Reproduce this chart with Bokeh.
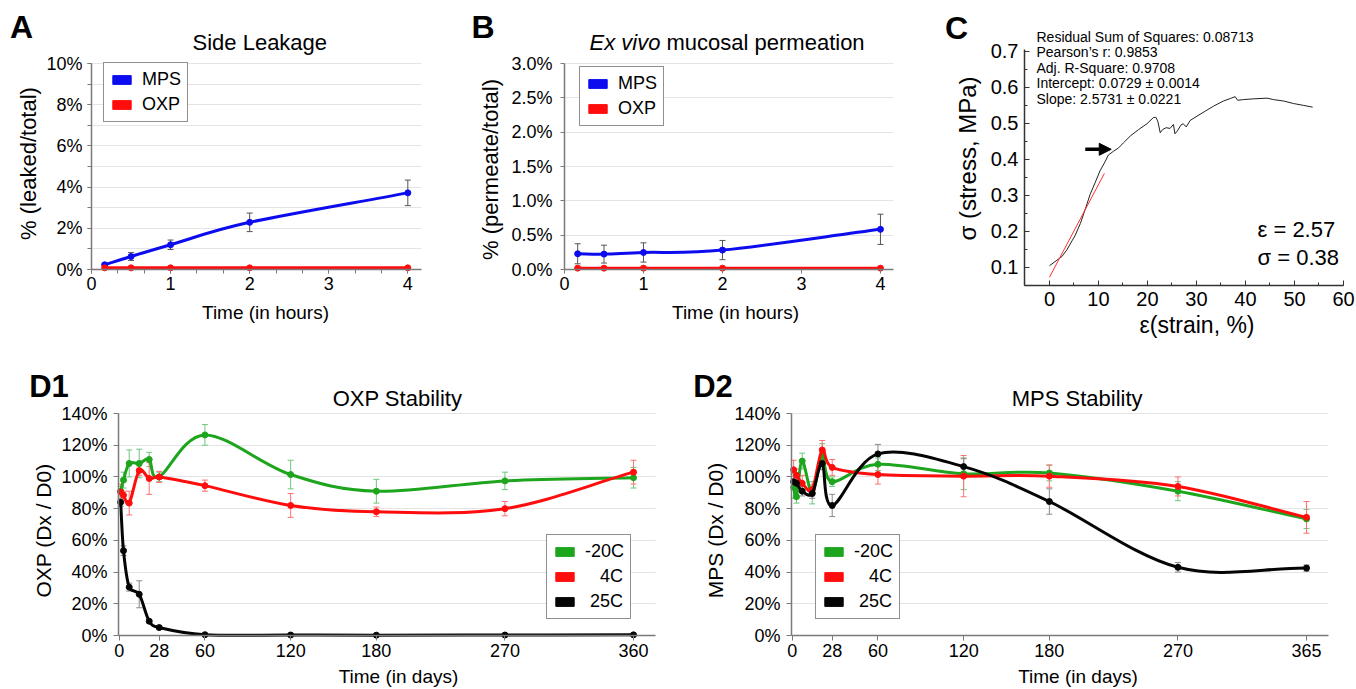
import math
from bokeh.plotting import figure
from bokeh.models import (Range1d, Label, Legend, LegendItem, Whisker, ColumnDataSource,
                          SingleIntervalTicker, FixedTicker, PrintfTickFormatter, Arrow,
                          NormalHead, TeeHead, Grid)
from bokeh.layouts import row, column
from bokeh.embed import file_html
from bokeh.resources import INLINE

FONT = "Liberation Sans"
NAN = float("nan")

# ---------------- data ----------------
a_hours = [1 / 6, 0.5, 1, 2, 4]
a_mps = [0.23, 0.63, 1.20, 2.29, 3.72]
a_mps_err = [0.05, 0.19, 0.23, 0.45, 0.62]
a_oxp = [0.08, 0.08, 0.08, 0.08, 0.08]

b_hours = [1 / 6, 0.5, 1, 2, 4]
b_mps = [0.229, 0.224, 0.248, 0.283, 0.585]
b_mps_err = [0.146, 0.13, 0.14, 0.14, 0.22]
b_oxp = [0.02, 0.02, 0.02, 0.02, 0.02]

c_strain = [0.0, 1.5, 2.5, 3.5, 4.6, 5.2, 6.3, 7.3, 8.3, 9.3, 10.3, 11.4, 12.0, 13.1, 14.1,
            15.1, 16.5, 18.2, 19.9, 21.2, 21.7, 22.1, 22.6, 23.1, 23.8, 24.6, 25.3, 25.6,
            26.1, 26.8, 27.3, 27.9, 28.7, 30.1, 31.8, 33.5, 35.5, 36.9, 37.9, 38.4, 39.6,
            41.6, 44.4, 45.7, 47.8, 49.8, 51.8, 53.7]
c_stress = [0.105, 0.120, 0.130, 0.148, 0.174, 0.188, 0.222, 0.262, 0.303, 0.335, 0.368,
            0.395, 0.412, 0.423, 0.432, 0.446, 0.465, 0.483, 0.499, 0.516, 0.517, 0.506,
            0.474, 0.483, 0.488, 0.486, 0.497, 0.471, 0.479, 0.495, 0.499, 0.490, 0.508,
            0.520, 0.534, 0.548, 0.562, 0.569, 0.574, 0.564, 0.566, 0.568, 0.570, 0.566,
            0.562, 0.555, 0.550, 0.545]
c_fit_strain = [0.0, 11.2]
c_fit_stress = [0.073, 0.361]
c_arrow_strain = [7.3, 12.6]
c_arrow_stress = [0.428, 0.428]
c_stats = ["Residual Sum of Squares: 0.08713", "Pearson\u2019s r: 0.9853",
           "Adj. R-Square: 0.9708", "Intercept: 0.0729 \u00b1 0.0014",
           "Slope: 2.5731 \u00b1 0.0221"]

d_days = [1, 3, 7, 14, 21, 28, 60, 120, 180, 270, 360]
d_tick_days = [0, 28, 60, 120, 180, 270, 360]
d1_tick_labels = ["0", "28", "60", "120", "180", "270", "360"]
d2_tick_labels = ["0", "28", "60", "120", "180", "270", "365"]

d1_m20 = [91, 98, 108.5, 108.5, 111, 100, 126.5, 101.5, 91, 97.5, 99.5]
d1_m20_err = [3, 5, 8.5, 9, 4.5, 3, 6.5, 9, 7.5, 5.5, 6.5]
d1_4c = [90.5, 88.5, 83.5, 104, 99, 100, 94.5, 82, 78, 80, 103]
d1_4c_err = [5, 2.5, 7.5, 3, 10, 3.5, 3.5, 7.5, 3, 4.5, 7.5]
d1_25c = [84, 53.5, 30.5, 26, 9, 5, 0.5, 0.3, 0.2, 0.3, 0.4]
d1_25c_err = [2.5, 3, 2.5, 8.5, 1, 1, 0.5, 0.5, 0.5, 0.5, 0.5]

d2_m20 = [93.5, 87.5, 110, 90, 113, 97, 108, 102, 102.5, 91, 73.5]
d2_m20_err = [7, 4, 5, 7, 8, 3, 4, 10, 5, 6, 6]
d2_4c = [104.5, 101, 96, 92, 117, 106, 101.5, 100.5, 100.5, 94, 74.5]
d2_4c_err = [6, 4, 5, 3, 6, 5, 6, 13, 7, 6, 10]
d2_25c = [97, 96, 91, 89.5, 108.5, 82, 114.5, 106.5, 84.5, 43, 42.5]
d2_25c_err = [5, 4, 3, 3, 4, 7, 6, 5, 8, 3, 2]

# ---------------- styling ----------------
BLUE = "#0c0cef"
RED = "#ff0d0d"
GREEN = "#1ea51e"
BLACK = "#050505"
GRID = "#e4e4e4"
AXIS = "#7a7a7a"

HAS_CROSS = "cross_bounds" in Grid.properties()


class Geo:
    """Plot area (L,R,T,B in canvas px) holding data range (x0,x1,y0,y1); canvas W x H."""

    def __init__(self, W, H, L, R, T, B, x0, x1, y0, y1):
        self.W, self.H = W, H
        self.x0, self.x1, self.y0, self.y1 = x0, x1, y0, y1
        self.kx = (x1 - x0) / (R - L)
        self.ky = (y1 - y0) / (B - T)
        self.X0 = x0 - L * self.kx
        self.X1 = x1 + (W - R) * self.kx
        self.Y0 = y0 - (H - B) * self.ky
        self.Y1 = y1 + T * self.ky

    def data(self, px, py):
        return self.X0 + px * self.kx, self.Y1 - py * self.ky


def make_fig(g, grid_ticks):
    p = figure(width=g.W, height=g.H, x_range=Range1d(g.X0, g.X1),
               y_range=Range1d(g.Y0, g.Y1), output_backend="svg", toolbar_location=None,
               min_border=0, min_border_left=0, min_border_right=0, min_border_top=0,
               min_border_bottom=0)
    p.outline_line_color = None
    p.background_fill_color = "white"
    p.border_fill_color = "white"
    p.xgrid.grid_line_color = None
    p.xaxis.fixed_location = g.y0
    p.xaxis.bounds = (g.x0, g.x1)
    p.yaxis.fixed_location = g.x0
    p.yaxis.bounds = (g.y0, g.y1)
    if grid_ticks is None:
        p.ygrid.grid_line_color = None
    elif HAS_CROSS:
        p.ygrid.grid_line_color = GRID
        p.ygrid.bounds = (g.y0, g.y1)
        p.ygrid.cross_bounds = (g.x0, g.x1)
        p.ygrid.ticker = FixedTicker(ticks=grid_ticks)
    else:
        p.ygrid.grid_line_color = None
        p.segment(x0=[g.x0] * len(grid_ticks), x1=[g.x1] * len(grid_ticks),
                  y0=grid_ticks, y1=grid_ticks, line_color=GRID, line_width=1,
                  level="underlay")
    for ax in (p.xaxis, p.yaxis):
        ax.axis_line_color = AXIS
        ax.axis_line_width = 1.5
        ax.major_tick_line_color = AXIS
        ax.minor_tick_line_color = AXIS
        ax.major_label_text_font = FONT
        ax.major_label_text_color = "black"
        ax.major_label_text_font_size = "18px"
    return p


def lab(p, g, px, py, text, size, style="normal", angle=0.0, align="center",
        baseline="middle"):
    x, y = g.data(px, py)
    p.add_layout(Label(x=x, y=y, text=text, text_font=FONT, text_font_size=f"{size}px",
                       text_font_style=style, angle=angle, text_align=align,
                       text_baseline=baseline, text_color="black"))


def smooth(xs, ys, g):
    sx, sy = 1 / g.kx, 1 / g.ky
    P = [(x * sx, y * sy) for x, y in zip(xs, ys)]
    n = len(P)
    out = dict(x0=[], y0=[], x1=[], y1=[], cx0=[], cy0=[], cx1=[], cy1=[])
    for i in range(n - 1):
        p1, p2 = P[i], P[i + 1]
        p0 = P[i - 1] if i > 0 else p1
        p3 = P[i + 2] if i + 2 < n else p2
        d12 = math.dist(p1, p2)
        d02 = math.dist(p0, p2)
        d13 = math.dist(p1, p3)
        f0 = 1 / 6 if i > 0 else 1 / 3
        f1 = 1 / 6 if i + 2 < n else 1 / 3
        if d02 * f0 > d12 / 2:
            f0 = d12 / (2 * d02)
        if d13 * f1 > d12 / 2:
            f1 = d12 / (2 * d13)
        c1 = (p1[0] + (p2[0] - p0[0]) * f0, p1[1] + (p2[1] - p0[1]) * f0)
        c2 = (p2[0] - (p3[0] - p1[0]) * f1, p2[1] - (p3[1] - p1[1]) * f1)
        out["x0"].append(p1[0] / sx); out["y0"].append(p1[1] / sy)
        out["x1"].append(p2[0] / sx); out["y1"].append(p2[1] / sy)
        out["cx0"].append(c1[0] / sx); out["cy0"].append(c1[1] / sy)
        out["cx1"].append(c2[0] / sx); out["cy1"].append(c2[1] / sy)
    return out


def series(p, g, xs, ys, errs, color, err_color, lw=3, size=6):
    p.bezier(source=ColumnDataSource(smooth(xs, ys, g)), x0="x0", y0="y0", x1="x1", y1="y1",
             cx0="cx0", cy0="cy0", cx1="cx1", cy1="cy1", line_color=color, line_width=lw,
             line_cap="round")
    if errs is not None:
        src = ColumnDataSource(dict(x=xs, up=[y + e for y, e in zip(ys, errs)],
                                    lo=[y - e for y, e in zip(ys, errs)]))
        w = Whisker(source=src, base="x", upper="up", lower="lo", line_color=err_color,
                    line_width=1,
                    upper_head=TeeHead(size=6, line_color=err_color, line_width=1),
                    lower_head=TeeHead(size=6, line_color=err_color, line_width=1))
        p.add_layout(w)
    p.scatter(xs, ys, size=size, marker="circle", fill_color=color, line_color=color)


def add_legend(p, labels, colors, loc):
    items = []
    for lbl, c in zip(labels, colors):
        q = p.quad(left=[NAN], right=[NAN], bottom=[NAN], top=[NAN], fill_color=c,
                   line_color=c)
        items.append(LegendItem(label=lbl, renderers=[q]))
    leg = Legend(items=items, location=loc, label_text_font=FONT,
                 label_text_font_size="18px", label_text_color="black",
                 glyph_width=23, glyph_height=11,
                 label_standoff=9, label_height=20, spacing=4, padding=6, margin=0,
                 border_line_color="#222222", border_line_width=1.5,
                 background_fill_color="white", background_fill_alpha=1.0)
    p.add_layout(leg)


# ---------------- Panel A ----------------
gA = Geo(440, 340, 91, 421, 63, 269, 0, 4.173, 0, 10)
pA = make_fig(gA, [1, 2, 3, 4, 5, 6, 7, 8, 9, 10])
pA.xaxis.ticker = SingleIntervalTicker(interval=1, num_minor_ticks=3)
pA.yaxis.ticker = SingleIntervalTicker(interval=2, num_minor_ticks=2)
pA.yaxis.formatter = PrintfTickFormatter(format="%d%%")
for ax in (pA.xaxis, pA.yaxis):
    ax.major_tick_out = 4; ax.major_tick_in = 0
    ax.minor_tick_out = 4; ax.minor_tick_in = 0
pA.xaxis.major_label_standoff = 3
pA.yaxis.major_label_standoff = 5
series(pA, gA, a_hours, a_mps, a_mps_err, BLUE, "#555555")
series(pA, gA, a_hours, a_oxp, None, RED, "#555555")
add_legend(pA, ["MPS", "OXP"], [BLUE, RED], (103, 218))
lab(pA, gA, 21, 26.7, "A", 32, "bold")
lab(pA, gA, 259.3, 41.7, "Side Leakage", 22)
lab(pA, gA, 28, 163, "% (leaked/total)", 22, angle=math.pi / 2)
lab(pA, gA, 265, 312, "Time (in hours)", 19)

# ---------------- Panel B ----------------
gB = Geo(460, 340, 124, 453, 63, 269, 0, 4.165, 0, 3.0)
pB = make_fig(gB, [0.5, 1.0, 1.5, 2.0, 2.5, 3.0])
pB.xaxis.ticker = SingleIntervalTicker(interval=1, num_minor_ticks=0)
pB.yaxis.ticker = SingleIntervalTicker(interval=0.5, num_minor_ticks=0)
pB.yaxis.formatter = PrintfTickFormatter(format="%.1f%%")
for ax in (pB.xaxis, pB.yaxis):
    ax.major_tick_out = 4; ax.major_tick_in = 0
pB.xaxis.major_label_standoff = 3
pB.yaxis.major_label_standoff = 8
series(pB, gB, b_hours, b_mps, b_mps_err, BLUE, "#555555")
series(pB, gB, b_hours, b_oxp, None, RED, "#555555")
add_legend(pB, ["MPS", "OXP"], [BLUE, RED], (139, 214))
lab(pB, gB, 42.5, 26.7, "B", 32, "bold")
lab(pB, gB, 149, 41.7, "Ex vivo", 22, "italic", align="left")
lab(pB, gB, 226, 41.7, "mucosal permeation", 22, align="left")
lab(pB, gB, 50, 169, "% (permeate/total)", 22, angle=math.pi / 2)
lab(pB, gB, 295, 312, "Time (in hours)", 19)

# ---------------- Panel C ----------------
gC = Geo(456, 340, 124, 443, 49, 285, -5.1, 60, 0.05, 0.705)
pC = make_fig(gC, None)
pC.xaxis.ticker = SingleIntervalTicker(interval=10, num_minor_ticks=2)
pC.yaxis.ticker = SingleIntervalTicker(interval=0.1, num_minor_ticks=2)
pC.yaxis.formatter = PrintfTickFormatter(format="%.1f")
for ax in (pC.xaxis, pC.yaxis):
    ax.axis_line_color = "#333333"
    ax.major_tick_line_color = "#333333"
    ax.minor_tick_line_color = "#333333"
    ax.major_tick_out = 0; ax.major_tick_in = 5
    ax.minor_tick_out = 0; ax.minor_tick_in = 3
    ax.major_label_text_font_size = "20px"
pC.xaxis.major_label_standoff = 6
pC.yaxis.major_label_standoff = 6
pC.line(c_strain, c_stress, line_color="#222222", line_width=1)
pC.line(c_fit_strain, c_fit_stress, line_color="#ff3030", line_width=1)
pC.add_layout(Arrow(end=NormalHead(size=12, fill_color="black", line_color="black"),
                    x_start=c_arrow_strain[0], y_start=c_arrow_stress[0],
                    x_end=c_arrow_strain[1], y_end=c_arrow_stress[1],
                    line_color="black", line_width=3.5))
lab(pC, gC, 56, 27.5, "C", 32, "bold")
for i, t in enumerate(c_stats):
    lab(pC, gC, 136, 36 + 15.6 * i, t, 14, align="left")
lab(pC, gC, 357, 229, "\u03b5 = 2.57", 22, align="left")
lab(pC, gC, 357, 257, "\u03c3 = 0.38", 22, align="left")
lab(pC, gC, 67, 158, "\u03c3 (stress, MPa)", 24, angle=math.pi / 2)
lab(pC, gC, 296.5, 324, "\u03b5(strain, %)", 23)

# ---------------- Panels D ----------------
LEG_D = ["-20C", "\u2007\u20084C", "\u200825C"]
ERR_G = "#6cc77c"
ERR_R = "#ff7070"
ERR_K = "#8a8a8a"


def make_d(g, tick_labels, title, ylab, letter, letter_x, title_x, ylab_x, xlab_x,
           leg_loc, s_m20, e_m20, s_4c, e_4c, s_25c, e_25c):
    p = make_fig(g, [20, 40, 60, 80, 100, 120, 140])
    p.xaxis.ticker = FixedTicker(ticks=d_tick_days)
    p.xaxis.major_label_overrides = {t: l for t, l in zip(d_tick_days, tick_labels)}
    p.yaxis.ticker = SingleIntervalTicker(interval=20, num_minor_ticks=0)
    p.yaxis.formatter = PrintfTickFormatter(format="%d%%")
    for ax in (p.xaxis, p.yaxis):
        ax.major_tick_out = 5; ax.major_tick_in = 0
        ax.minor_tick_line_color = None
    p.xaxis.major_label_standoff = 3
    p.yaxis.major_label_standoff = 6
    series(p, g, d_days, s_m20, e_m20, GREEN, ERR_G)
    series(p, g, d_days, s_4c, e_4c, RED, ERR_R)
    series(p, g, d_days, s_25c, e_25c, BLACK, ERR_K)
    add_legend(p, LEG_D, [GREEN, RED, BLACK], leg_loc)
    lab(p, g, letter_x, 45.5, letter, 31, "bold")
    lab(p, g, title_x, 58, title, 22)
    lab(p, g, ylab_x, 190, ylab, 21, angle=math.pi / 2)
    lab(p, g, xlab_x, 336, "Time (in days)", 19)
    return p


gD1 = Geo(680, 349, 118, 655, 73, 295, -0.5, 375.4, 0, 140)
pD1 = make_d(gD1, d1_tick_labels, "OXP Stability", "OXP (Dx / D0)", "D1", 48.5, 397, 43,
             398, (546, 70), d1_m20, d1_m20_err, d1_4c, d1_4c_err, d1_25c, d1_25c_err)
gD2 = Geo(676, 349, 111, 648, 73, 295, -0.5, 375.4, 0, 140)
pD2 = make_d(gD2, d2_tick_labels, "MPS Stability", "MPS (Dx / D0)", "D2", 32.5, 396.7, 35,
             397.5, (135, 70), d2_m20, d2_m20_err, d2_4c, d2_4c_err, d2_25c, d2_25c_err)

layout = column(row(pA, pB, pC), row(pD1, pD2))
open("out.html", "w").write(file_html(layout, INLINE))
